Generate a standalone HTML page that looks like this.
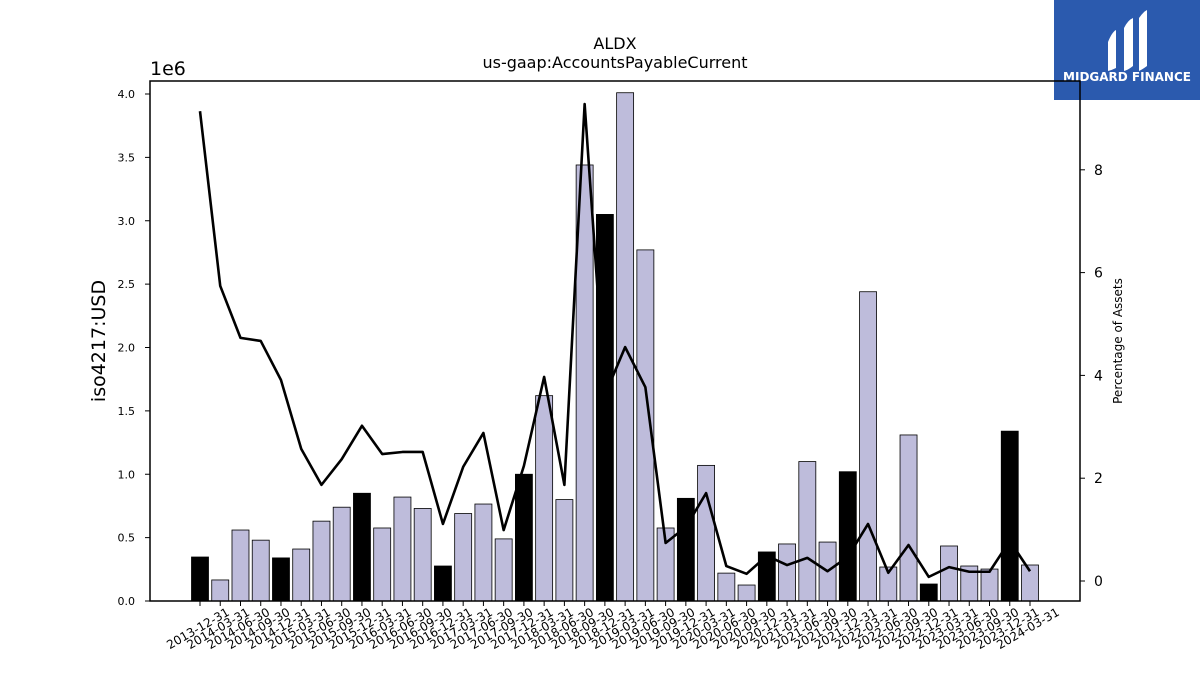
<!DOCTYPE html>
<html><head><meta charset="utf-8"><style>
body{margin:0;background:#fff;width:1200px;height:675px;overflow:hidden;font-family:"Liberation Sans","DejaVu Sans",sans-serif}
</style></head><body>
<svg width="1200" height="675" xmlns="http://www.w3.org/2000/svg" font-family="DejaVu Sans, Liberation Sans, sans-serif">
<g>
<rect x="1054" y="0" width="146" height="100" fill="#2b5aae"/>
<path d="M1108 42 Q1112 32 1116 30 L1116 68 Q1112 70 1108 71 Z" fill="#fff"/>
<path d="M1124 28 Q1128 20 1133 18 L1133 66 Q1128 70 1124 71 Z" fill="#fff"/>
<path d="M1139 18 Q1143 12 1147 10 L1147 66 Q1143 69 1139 71 Z" fill="#fff"/>
<text x="1127" y="81" text-anchor="middle" font-size="12" font-weight="bold" fill="#fff">MIDGARD FINANCE</text>
</g>
<text x="615" y="49" text-anchor="middle" font-size="16">ALDX</text>
<text x="615" y="68" text-anchor="middle" font-size="16">us-gaap:AccountsPayableCurrent</text>
<text x="150" y="75" font-size="19">1e6</text>
<text transform="translate(105,341) rotate(-90)" text-anchor="middle" font-size="19">iso4217:USD</text>
<text transform="translate(1122,341) rotate(-90)" text-anchor="middle" font-size="12">Percentage of Assets</text>
<g id="bars"></g><g id="line"></g><g id="axes"></g>
<rect x="150" y="81" width="930" height="520" fill="none" stroke="#000" stroke-width="1.5"/>
</svg>
<script>
const categories=["2013-12-31","2014-03-31","2014-06-30","2014-09-30","2014-12-31","2015-03-31","2015-06-30","2015-09-30","2015-12-31","2016-03-31","2016-06-30","2016-09-30","2016-12-31","2017-03-31","2017-06-30","2017-09-30","2017-12-31","2018-03-31","2018-06-30","2018-09-30","2018-12-31","2019-03-31","2019-06-30","2019-09-30","2019-12-31","2020-03-31","2020-06-30","2020-09-30","2020-12-31","2021-03-31","2021-06-30","2021-09-30","2021-12-31","2022-03-31","2022-06-30","2022-09-30","2022-12-31","2023-03-31","2023-06-30","2023-09-30","2023-12-31","2024-03-31"];
const payables=[0.347,0.166,0.56,0.48,0.34,0.41,0.63,0.74,0.85,0.576,0.82,0.73,0.276,0.69,0.765,0.49,1.0,1.62,0.80,3.44,3.05,4.01,2.77,0.576,0.81,1.07,0.22,0.126,0.387,0.45,1.10,0.465,1.02,2.44,0.268,1.31,0.134,0.434,0.276,0.252,1.34,0.284];
const pctAssets=[9.14,5.74,4.73,4.67,3.91,2.57,1.87,2.37,3.02,2.47,2.51,2.51,1.11,2.22,2.88,0.99,2.24,3.97,1.87,9.28,3.62,4.55,3.77,0.74,1.05,1.71,0.29,0.14,0.49,0.31,0.45,0.19,0.47,1.11,0.16,0.70,0.08,0.27,0.18,0.18,0.78,0.19];
const leftTicks=[0,0.5,1.0,1.5,2.0,2.5,3.0,3.5,4.0];
const rightTicks=[0,2,4,6,8];
const NS="http://www.w3.org/2000/svg";
const xPos=i=>200+i*(830/(categories.length-1));
const yL=v=>601-v*126.75;
const yR=v=>581-v*51.4;
function mk(tag,attrs,parent){const e=document.createElementNS(NS,tag);for(const k in attrs)e.setAttribute(k,attrs[k]);parent.appendChild(e);return e;}
const gb=document.getElementById('bars'),gl=document.getElementById('line'),ga=document.getElementById('axes');
payables.forEach((v,i)=>{
  const q4=categories[i].endsWith('12-31');
  const r=mk('rect',{x:xPos(i)-8.5,y:yL(v),width:17,height:601-yL(v),fill:q4?'#000':'#bebcdb',stroke:'#000','stroke-width':0.8},gb);
  
  
});
const pts=pctAssets.map((v,i)=>xPos(i)+','+yR(v)).join(' ');
const pl=mk('polyline',{points:pts,fill:'none',stroke:'#000','stroke-width':2.6,'stroke-linejoin':'round'},gl);


categories.forEach((c,i)=>{
  const x=xPos(i);
  mk('line',{x1:x,y1:601,x2:x,y2:606,stroke:'#000'},ga);
  const t=mk('text',{x:0,y:0,'text-anchor':'middle','font-size':12,transform:`translate(${x},${632}) rotate(-30)`},ga);
  t.textContent=c;
  
  
});
leftTicks.forEach(v=>{
  const y=yL(v);
  mk('line',{x1:145,y1:y,x2:150,y2:y,stroke:'#000'},ga);
  const t=mk('text',{x:135,y:y+4,'text-anchor':'end','font-size':11},ga);
  t.textContent=v.toFixed(1);
  
  
});
rightTicks.forEach(v=>{
  const y=yR(v);
  mk('line',{x1:1080,y1:y,x2:1085,y2:y,stroke:'#000'},ga);
  const t=mk('text',{x:1094,y:y+5,'font-size':14},ga);
  t.textContent=v;
  
  
});
</script>
</body></html>
